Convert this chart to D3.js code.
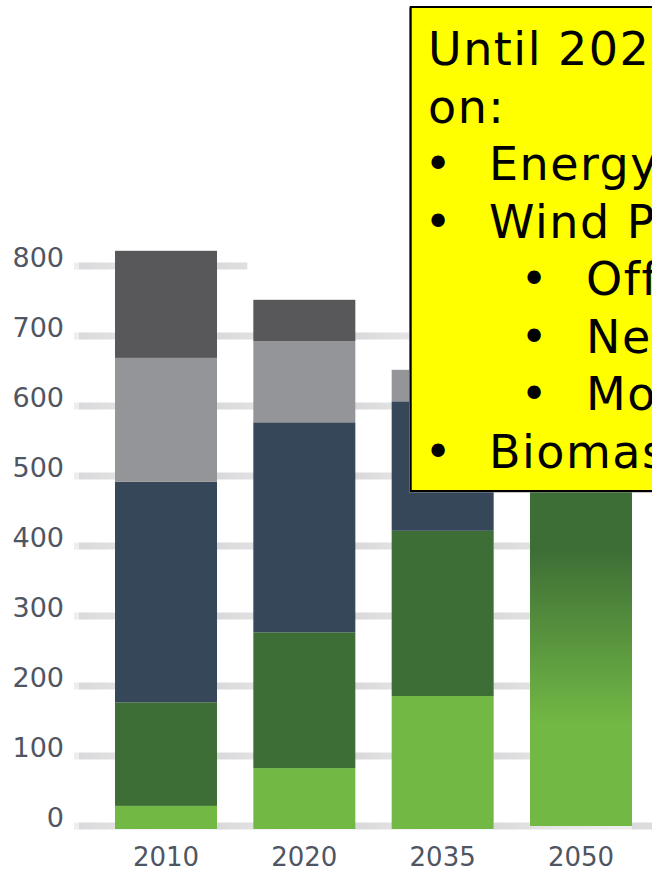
<!DOCTYPE html>
<html>
<head>
<meta charset="utf-8">
<script src="https://cdn.jsdelivr.net/npm/d3@7/dist/d3.min.js"></script>
<style>
  html, body { margin: 0; padding: 0; background: #fff; }
  svg { display: block; }
</style>
</head>
<body>
<svg id="chart" width="652" height="871"></svg>
<script>
// Generation mix by year (TWh), stacked bottom to top
const years   = ["2010", "2020", "2035", "2050"];
const biomass = [33, 87, 190, 150];   // light green
const wind    = [148, 194, 236, 410]; // dark green
const coal    = [315, 300, 185, 0];   // navy
const gas     = [177, 116, 45, 0];    // light grey
const nuclear = [153, 59, 0, 0];      // dark grey
const yTicks  = [0, 100, 200, 300, 400, 500, 600, 700, 800];
// 2050 is drawn as one renewable block, blending between the two greens over this value range
const blend2050 = [150, 400];

const keys = ["biomass", "wind", "coal", "gas", "nuclear"];
const colors = {
  biomass: "#72b845",
  wind: "#3d6e36",
  coal: "#36475a",
  gas: "#939598",
  nuclear: "#58585a"
};

const rows = years.map((year, i) => ({
  year,
  biomass: biomass[i], wind: wind[i], coal: coal[i], gas: gas[i], nuclear: nuclear[i]
}));

const calloutLines = [
  { level: 0, text: "Until 2020 focus" },
  { level: 0, text: "on:" },
  { level: 1, text: "Energy efficiency" },
  { level: 1, text: "Wind Power" },
  { level: 2, text: "Offshore" },
  { level: 2, text: "New sites" },
  { level: 2, text: "Modernisation" },
  { level: 1, text: "Biomass" }
];

const W = 652, H = 871;
const svg = d3.select("#chart");

const x = d3.scaleBand().domain(years).range([115, 632]).paddingInner(0.2627).paddingOuter(0);
const y = d3.scaleLinear().domain([0, 800]).range([829, 269]);

const defs = svg.append("defs");

// soft gridline shading that repeats once per category step
const step = x.step();
const gridGrad = defs.append("linearGradient")
  .attr("id", "gridShade")
  .attr("gradientUnits", "userSpaceOnUse")
  .attr("spreadMethod", "repeat")
  .attr("x1", x("2010") + x.bandwidth()).attr("x2", x("2010") + x.bandwidth() + step)
  .attr("y1", 0).attr("y2", 0);
gridGrad.append("stop").attr("offset", 0).attr("stop-color", "#d9d9db");
gridGrad.append("stop").attr("offset", 0.45).attr("stop-color", "#e7e7e8");
gridGrad.append("stop").attr("offset", 1).attr("stop-color", "#eeeeee");

// gridlines
const gridStart = 74;
function gridEnd(v) {
  if (v === 0) return W;
  if (v === 800) return x("2020") - 6;
  return x("2050") + x.bandwidth() / 2;
}
svg.append("g").selectAll("rect")
  .data(yTicks)
  .join("rect")
  .attr("x", gridStart)
  .attr("y", d => y(d) - 6.5)
  .attr("width", d => gridEnd(d) - gridStart)
  .attr("height", 7)
  .attr("fill", "url(#gridShade)");

// y axis labels
svg.append("g").selectAll("text")
  .data(yTicks)
  .join("text")
  .attr("x", 64)
  .attr("y", d => y(d) - 2)
  .attr("text-anchor", "end")
  .attr("font-family", "DejaVu Sans, Verdana, sans-serif")
  .attr("font-size", 27)
  .attr("fill", "#4f5562")
  .text(d => d);

// stacked bars for the historic / mixed years
const stacked = d3.stack().keys(keys)(rows.filter(r => r.year !== "2050"));
svg.append("g").selectAll("g")
  .data(stacked)
  .join("g")
  .attr("fill", d => colors[d.key])
  .selectAll("rect")
  .data(d => d.filter(s => s[1] > s[0]))
  .join("rect")
  .attr("x", d => x(d.data.year))
  .attr("width", x.bandwidth())
  .attr("y", d => y(d[1]))
  .attr("height", d => y(d[0]) - y(d[1]));

// 2050 renewable block with a vertical blend
const r2050 = rows.find(r => r.year === "2050");
const total2050 = d3.sum(keys, k => r2050[k]);
const g2050 = defs.append("linearGradient")
  .attr("id", "green2050")
  .attr("gradientUnits", "userSpaceOnUse")
  .attr("x1", 0).attr("x2", 0)
  .attr("y1", y(blend2050[0])).attr("y2", y(blend2050[1]));
g2050.append("stop").attr("offset", 0).attr("stop-color", colors.biomass);
g2050.append("stop").attr("offset", 1).attr("stop-color", colors.wind);
svg.append("rect")
  .attr("x", x("2050"))
  .attr("width", x.bandwidth())
  .attr("y", y(total2050))
  .attr("height", y(0) - y(total2050) - 3)
  .attr("fill", "url(#green2050)");

// x axis labels
svg.append("g").selectAll("text")
  .data(years)
  .join("text")
  .attr("x", d => x(d) + x.bandwidth() / 2)
  .attr("y", 866)
  .attr("text-anchor", "middle")
  .attr("font-family", "DejaVu Sans, Verdana, sans-serif")
  .attr("font-size", 26)
  .attr("fill", "#4f5562")
  .text(d => d);

// yellow callout
const box = svg.append("g");
box.append("rect")
  .attr("x", 409.5).attr("y", 8)
  .attr("width", 300).attr("height", 484)
  .attr("fill", "none").attr("stroke", "#8a8a8a").attr("stroke-width", 1);
box.append("rect")
  .attr("x", 410.7).attr("y", 7)
  .attr("width", 300).attr("height", 484)
  .attr("fill", "#ffff00").attr("stroke", "#000").attr("stroke-width", 2);

const textX = [428, 489, 586];
const bulletX = [null, 438, 534];
const lineY = d3.scaleLinear().domain([0, 7]).range([65, 468]);
const tg = box.append("g")
  .attr("font-family", "DejaVu Sans, Verdana, sans-serif")
  .attr("font-size", 46)
  .attr("fill", "#000");
calloutLines.forEach((ln, i) => {
  if (ln.level > 0) {
    tg.append("text")
      .attr("x", bulletX[ln.level]).attr("y", lineY(i))
      .attr("text-anchor", "middle")
      .text("\u2022");
  }
  tg.append("text")
    .attr("x", textX[ln.level]).attr("y", lineY(i))
    .attr("letter-spacing", 1.5)
    .text(ln.text);
});
</script>
</body>
</html>
